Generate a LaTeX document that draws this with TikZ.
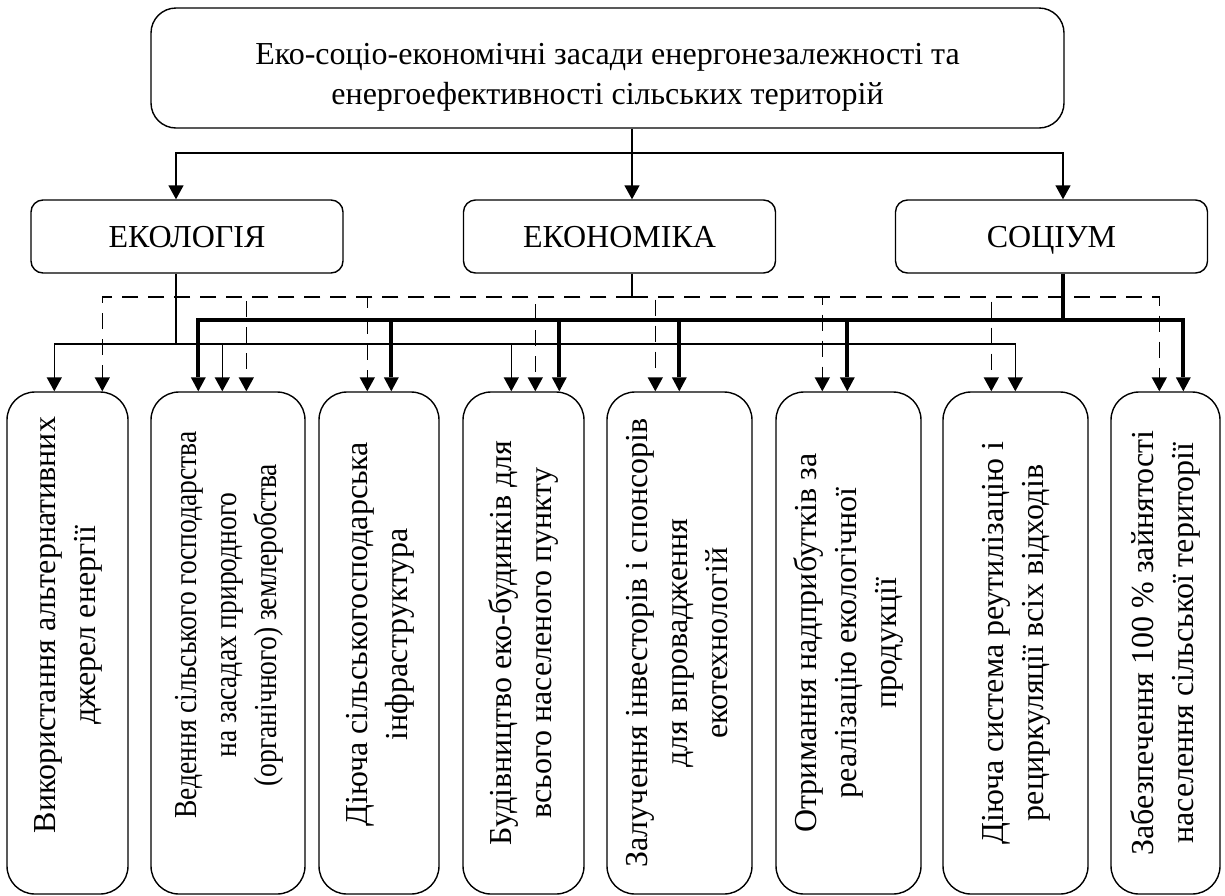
\documentclass[tikz,border=0pt]{standalone}
\usepackage{fontspec}
\setmainfont{Liberation Serif}
\usepackage{graphicx}
\usepackage{tikz}
\usetikzlibrary{arrows.meta,positioning}

% rotated multi-line text for the lower boxes (optional: offset towards the top)
\newcommand{\vtxt}[2][0pt]{\rotatebox{90}{\hspace*{#1}\begin{tabular}{@{}c@{}}#2\end{tabular}}}

\begin{document}
\begin{tikzpicture}[
  x=0.5pt, y=-0.5pt,
  font=\fontsize{16}{20}\selectfont,
  topbox/.style={draw, line width=0.7pt, rounded corners=12.5pt, align=center, inner sep=0pt, minimum width=456.5pt, minimum height=60pt},
  midbox/.style={draw, line width=0.7pt, rounded corners=6pt, inner sep=0pt, minimum width=156pt, minimum height=36.5pt, text height=10.6pt, text depth=0pt},
  itembox/.style={draw, line width=0.7pt, rounded corners=14pt, inner sep=0pt, minimum height=251pt},
  ln/.style={line width=0.75pt},
  arr/.style={-{Triangle[width=7.5pt,length=7pt]}, line width=0.75pt},
  darr/.style={arr, dash pattern=on 8pt off 5pt},
  tarr/.style={-{Triangle[width=7.5pt,length=7pt,line width=0pt]}, line width=1.9pt}
]
\useasboundingbox (0,0) rectangle (1225,895);

% top and the three spheres
\node[topbox] (top) at (607.5,68) {\rule{0pt}{20pt}Еко-соціо-економічні засади енергонезалежності та\\енергоефективності сільських територій};
\node[midbox] (eco) at (187,236.5) {ЕКОЛОГІЯ};
\node[midbox] (econ) at (619.5,236.5) {ЕКОНОМІКА};
\node[midbox] (soc) at (1051.5,236.5) {СОЦІУМ};

% lower boxes
\node[itembox, minimum width=60.5pt] (b1) at (67.5,643) {\vtxt[18pt]{Використання альтернативних\\джерел енергії}};
\node[itembox, minimum width=77pt] (b2) at (228,643) {\vtxt[18pt]{\scalebox{0.86}[1]{Ведення сільського господарства}\\\scalebox{0.86}[1]{на засадах природного}\\\scalebox{0.86}[1]{(органічного) землеробства}}};
\node[itembox, minimum width=60pt] (b3) at (379,643) {\vtxt[9pt]{Діюча сільськогосподарська\\інфраструктура}};
\node[itembox, minimum width=60.5pt] (b4) at (523.5,643) {\vtxt{Будівництво еко-будинків для\\всього населеного пункту}};
\node[itembox, minimum width=72.5pt] (b5) at (679.5,643) {\vtxt{Залучення інвесторів і спонсорів\\для впровадження\\екотехнологій}};
\node[itembox, minimum width=72.5pt] (b6) at (848.5,643) {\vtxt{Отримання надприбутків за\\реалізацію екологічної\\продукції}};
\node[itembox, minimum width=72.5pt] (b7) at (1015.5,643) {\vtxt{Діюча система реутилізацію і\\рециркуляції всіх відходів}};
\node[itembox, minimum width=54.5pt] (b8) at (1165.5,643) {\vtxt{Забезпечення 100 \% зайнятості\\населення сільської території}};

% branching points
\coordinate (topbus) at (632,153);
\coordinate (ecobus) at (176,344);
\coordinate (econbus) at (632,297);
\coordinate (socbus) at (1063,320);

% top level
\draw[ln] ([xshift=12.25pt]top.south) -- (topbus);
\draw[arr] (topbus) -| ([xshift=-5.5pt]eco.north);
\draw[arr] (topbus) -- ([xshift=6.25pt]econ.north);
\draw[arr] (topbus) -| ([xshift=5.75pt]soc.north);

% ecology (thin)
\draw[ln] ([xshift=-5.5pt]eco.south) -- (ecobus);
\draw[arr] (ecobus) -| ([xshift=24pt]b1.north west);
\draw[arr] (ecobus) -| ([xshift=36pt]b2.north west);
\draw[arr] (ecobus) -| ([xshift=24.5pt]b4.north west);
\draw[arr] (ecobus) -| ([xshift=36.5pt]b7.north west);

% economy (dashed)
\draw[ln] ([xshift=6.25pt]econ.south) -- (econbus);
\draw[darr] (econbus) -| ([xshift=48pt]b1.north west);
\draw[darr] (econbus) -| ([xshift=48pt]b2.north west);
\draw[darr] (econbus) -| ([xshift=24.5pt]b3.north west);
\draw[darr] (econbus) -| ([xshift=36.5pt]b4.north west);
\draw[darr] (econbus) -| ([xshift=24.5pt]b5.north west);
\draw[darr] (econbus) -| ([xshift=23.5pt]b6.north west);
\draw[darr] (econbus) -| ([xshift=24.5pt]b7.north west);
\draw[darr] (econbus) -| ([xshift=24.5pt]b8.north west);

% society (thick)
\draw[line width=1.9pt] ([xshift=5.75pt]soc.south) -- (socbus);
\draw[tarr] (socbus) -| ([xshift=24pt]b2.north west);
\draw[tarr] (socbus) -| ([xshift=36.5pt]b3.north west);
\draw[tarr] (socbus) -| ([xshift=48.5pt]b4.north west);
\draw[tarr] (socbus) -| ([xshift=36.5pt]b5.north west);
\draw[tarr] (socbus) -| ([xshift=36pt]b6.north west);
\draw[tarr] (socbus) -| ([xshift=36.5pt]b8.north west);
\end{tikzpicture}
\end{document}
